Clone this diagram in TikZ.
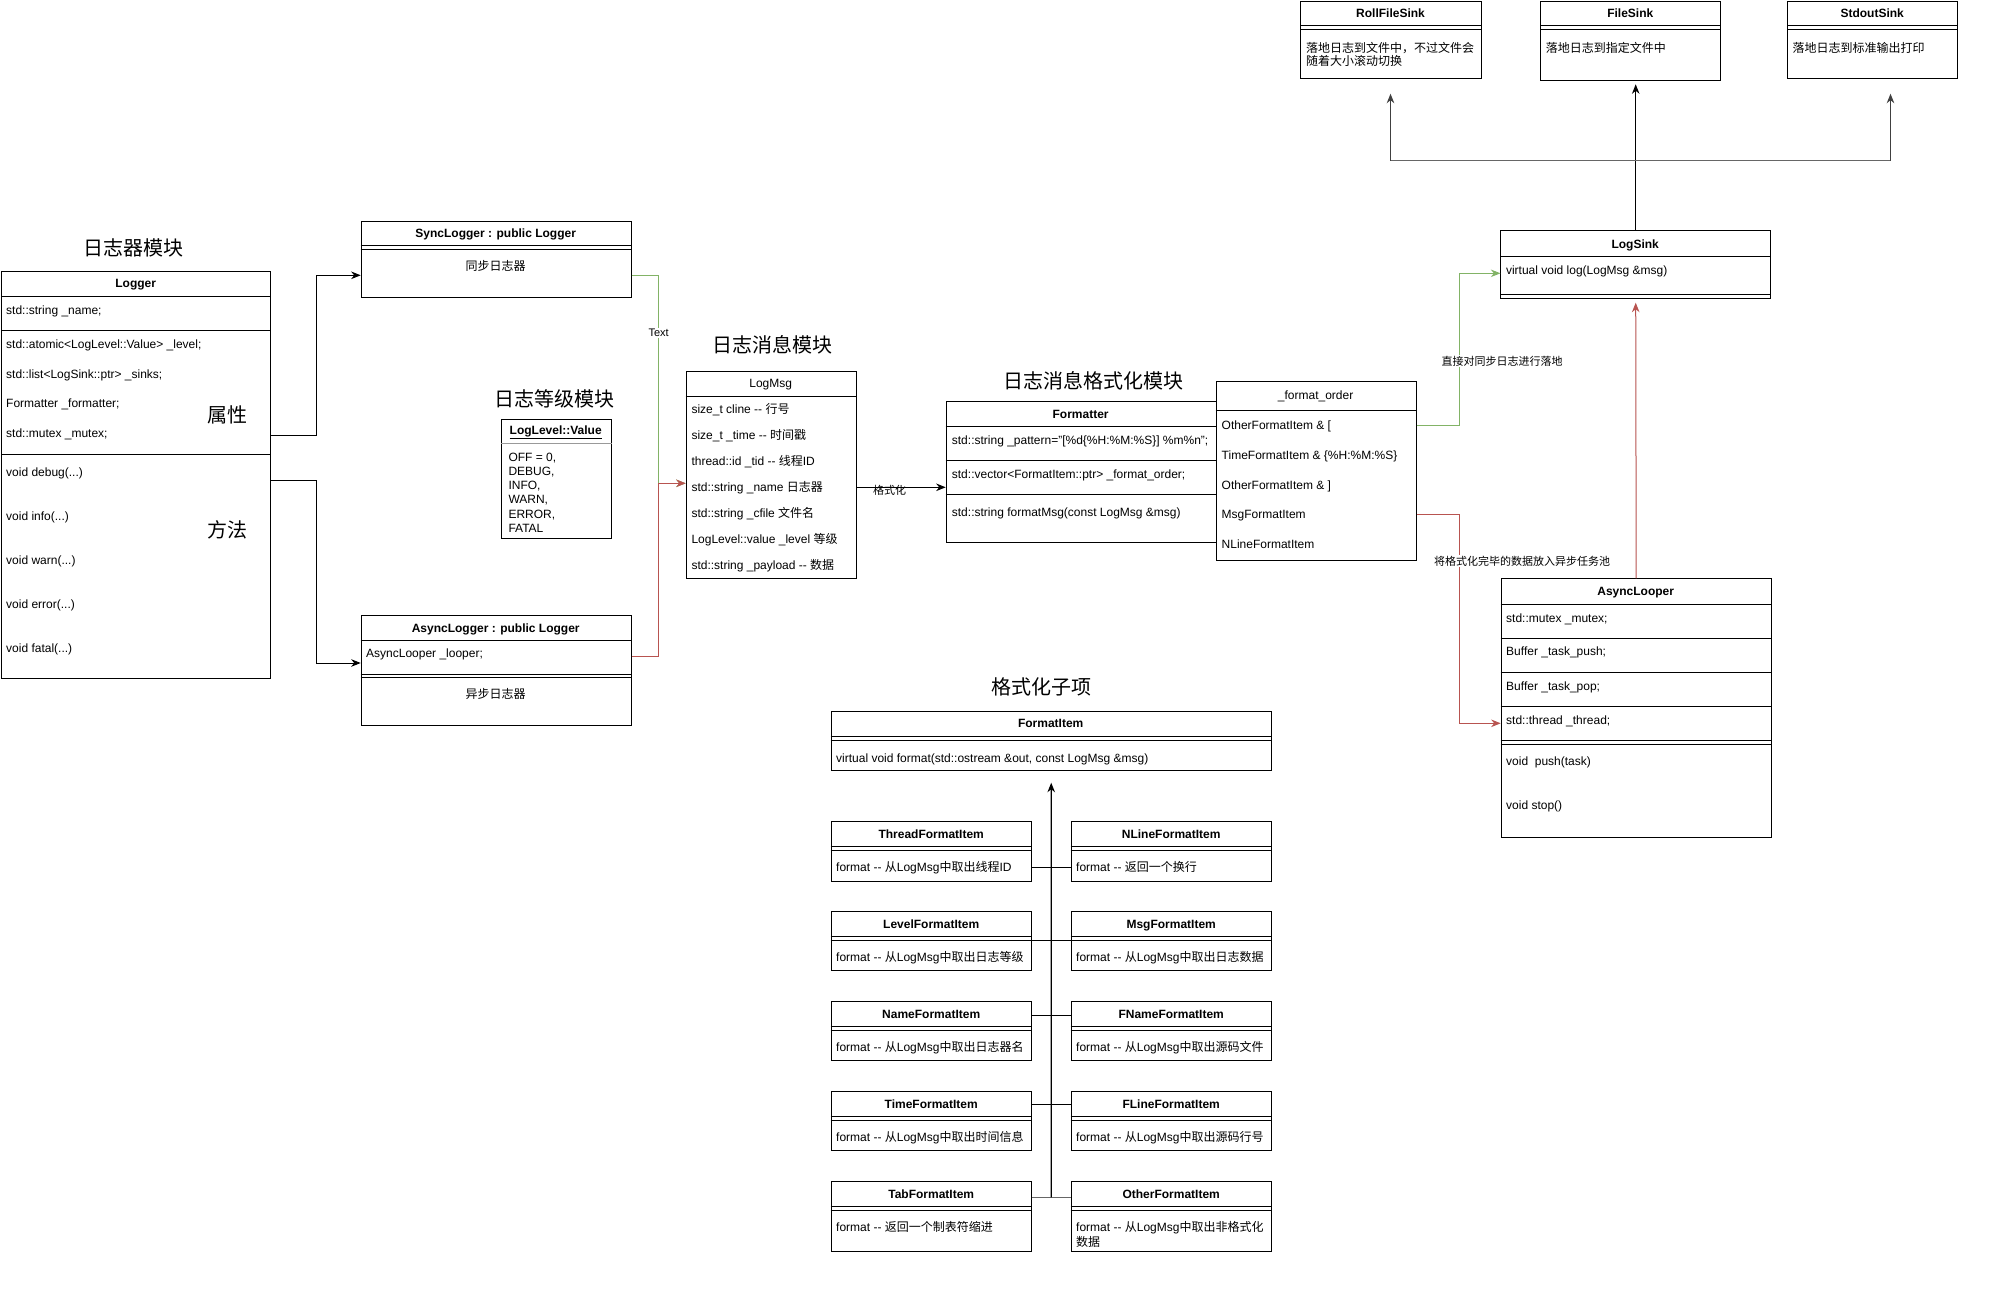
\documentclass[tikz,border=0pt]{standalone}
\usepackage{fontspec}
\setmainfont{Liberation Sans}
\newfontfamily\cjk{Noto Sans CJK SC}
\usetikzlibrary{arrows.meta,positioning,calc}
\definecolor{syncgreen}{HTML}{82B366}
\definecolor{asyncred}{HTML}{B85450}

% Chinese characters are set in the CJK face
\XeTeXinterchartokenstate=1
\newXeTeXintercharclass\cjkclass
\count255="4E00
\loop
  \XeTeXcharclass\count255=\cjkclass
  \advance\count255 by 1
\ifnum\count255<"A000 \repeat
\XeTeXcharclass"FF0C=\cjkclass
\XeTeXinterchartoks 0 \cjkclass={\cjk}
\XeTeXinterchartoks 4095 \cjkclass={\cjk}
\XeTeXinterchartoks \cjkclass 0={\normalfont}
\XeTeXinterchartoks \cjkclass 4095={\normalfont}

\newcommand{\dsh}{-\kern0pt-}
\newcommand{\hsep}[3][]{\draw[line width=1pt,#1] ([yshift=-#3pt]#2.north west) -- ([yshift=-#3pt]#2.north east);}

\begin{document}
\begin{tikzpicture}[x=1pt, y=-1pt, every node/.style={font=\fontsize{12}{14}\selectfont}]
\tikzset{box/.style={draw, line width=1pt, fill=white, inner sep=0pt, anchor=north west}}
\tikzset{txt/.style={inner sep=0pt, text height=8pt, text depth=0pt}}
\tikzset{row/.style={txt, anchor=west}}
\tikzset{cls/.style={txt, font=\bfseries\fontsize{12}{14}\selectfont}}
\tikzset{heading/.style={inner sep=0pt, font=\fontsize{20}{24}\selectfont}}
\tikzset{lbl/.style={inner sep=1pt, fill=white, font=\fontsize{11}{13}\selectfont}}
\tikzset{arr/.style={line width=1pt, -{Stealth[length=9.5pt, width=7.5pt, inset=3pt]}}}
\tikzset{garr/.style={arr, draw=syncgreen}}
\tikzset{rarr/.style={arr, draw=asyncred}}
\tikzset{busline/.style={line width=1.6pt, draw=black!60}}
\tikzset{busarr/.style={arr, line width=1.2pt, draw=black!75}}
\fill[white] (0,0) rectangle (2000,1300);
\useasboundingbox (0,0) rectangle (2000,1300);

% logger module
\node[heading] (hlogger) at (133,248) {日志器模块};
\node[box, minimum width=269.4pt, minimum height=407.6pt] (logger) at (1,270.7) {};
\node[cls] (loggert) at (135.7,283.5) {Logger};
\hsep{logger}{25.6} \hsep{logger}{59.6} \hsep{logger}{183.6}
\node[row] (aname) at (6,310) {std::string \_name;};
\node[row] (alevel) at (6,344) {std::atomic<LogLevel::Value> \_level;};
\node[row] (asinks) at (6,374) {std::list<LogSink::ptr> \_sinks;};
\node[row] (aformatter) at (6,403) {Formatter \_formatter;};
\node[row] (amutex) at (6,433) {std::mutex \_mutex;};
\node[row] (mdebug) at (6,472) {void debug(...)};
\node[row] (minfo) at (6,516) {void info(...)};
\node[row] (mwarn) at (6,560) {void warn(...)};
\node[row] (merror) at (6,604) {void error(...)};
\node[row] (mfatal) at (6,648) {void fatal(...)};
\node[heading] (hattr) at (227,415) {属性};
\node[heading] (hmeth) at (227,530) {方法};

\node[box, minimum width=270pt, minimum height=76.6pt] (sync) at (360.7,220.7) {};
\node[cls] (synct) at (495.7,233.3) {SyncLogger : public Logger};
\hsep{sync}{25.3} \hsep{sync}{29.3}
\node[txt] (syncb) at (495.7,266.7) {同步日志器};

\node[box, minimum width=270pt, minimum height=110pt] (async) at (360.7,615) {};
\node[cls] (asynct) at (495.7,628) {AsyncLogger : public Logger};
\hsep{async}{25.7} \hsep{async}{59} \hsep{async}{62.7}
\node[row] (alooper) at (366,653.3) {AsyncLooper \_looper;};
\node[txt] (asyncb) at (495.7,694) {异步日志器};

% log level
\node[heading] (hlevel) at (554,399) {日志等级模块};
\node[box, minimum width=110pt, minimum height=118.4pt] (loglevel) at (500.7,419.3) {};
\node[cls] (loglevelt) at (555.7,430.5) {\underline{LogLevel::Value}};
\hsep[black!40]{loglevel}{24}
\foreach \val [count=\i] in {{OFF = 0,}, {DEBUG,}, {INFO,}, {WARN,}, {ERROR,}, {FATAL}}
  \node[row] (lv\i) at (508.3,443.1+14.2*\i) {\val};

% log message
\node[heading] (hmsg) at (772.7,345) {日志消息模块};
\node[box, minimum width=170pt, minimum height=207.6pt] (logmsg) at (685.7,370.7) {};
\node[txt] (logmsgt) at (770.7,383.5) {LogMsg};
\hsep{logmsg}{25.6}
\node[row] (mline) at (691.3,409.3) {size\_t cline \dsh{} 行号};
\node[row] (mtime) at (691.3,435.3) {size\_t \_time \dsh{} 时间戳};
\node[row] (mtid) at (691.3,461.7) {thread::id \_tid \dsh{} 线程ID};
\node[row] (mname) at (691.3,487.3) {std::string \_name 日志器};
\node[row] (mfile) at (691.3,513.3) {std::string \_cfile 文件名};
\node[row] (mlevel) at (691.3,539.7) {LogLevel::value \_level 等级};
\node[row] (mpayload) at (691.3,565.7) {std::string \_payload \dsh{} 数据};

% formatter
\node[heading] (hformat) at (1093,381) {日志消息格式化模块};
\node[box, minimum width=269.9pt, minimum height=141.6pt] (formatter) at (945.7,400.7) {};
\node[cls] (formattert) at (1080.6,414) {Formatter};
\hsep{formatter}{26} \hsep{formatter}{59.6} \hsep{formatter}{93.6}
\node[row] (fpattern) at (951.7,440) {std::string \_pattern="[\%d\{\%H:\%M:\%S\}] \%m\%n";};
\node[row] (forderv) at (951.7,474) {std::vector<FormatItem::ptr> \_format\_order;};
\node[row] (fmsg) at (951.7,512.3) {std::string formatMsg(const LogMsg \&msg)};

\node[box, minimum width=200pt, minimum height=179.3pt] (forder) at (1215.6,380.7) {};
\node[txt] (fordert) at (1315.6,395.7) {\_format\_order};
\hsep{forder}{30}
\node[row] (o1) at (1221.5,425) {OtherFormatItem \& [};
\node[row] (o2) at (1221.5,455.7) {TimeFormatItem \& \{\%H:\%M:\%S\}};
\node[row] (o3) at (1221.5,485) {OtherFormatItem \& ]};
\node[row] (o4) at (1221.5,514.7) {MsgFormatItem};
\node[row] (o5) at (1221.5,544.3) {NLineFormatItem};

% sinks
\node[box, minimum width=269.6pt, minimum height=68.3pt] (logsink) at (1500.4,230) {};
\node[cls] (logsinkt) at (1635.2,244) {LogSink};
\hsep{logsink}{26.7} \hsep{logsink}{64.3}
\node[row] (slog) at (1505.8,270) {virtual void log(LogMsg \&msg)};

\node[box, minimum width=180.1pt, minimum height=77.3pt] (rollsink) at (1300.4,1) {};
\node[cls] (rollsinkt) at (1390.5,13.3) {RollFileSink};
\hsep{rollsink}{25} \hsep{rollsink}{29}
\node[row] (rollb1) at (1305.8,48.3) {落地日志到文件中，不过文件会};
\node[row] (rollb2) at (1305.8,61.7) {随着大小滚动切换};

\node[box, minimum width=180.1pt, minimum height=79.3pt] (filesink) at (1540.2,1) {};
\node[cls] (filesinkt) at (1630.3,13.3) {FileSink};
\hsep{filesink}{25} \hsep{filesink}{29}
\node[row] (fileb) at (1545.7,48.3) {落地日志到指定文件中};

\node[box, minimum width=169.7pt, minimum height=77.3pt] (stdsink) at (1787.3,1) {};
\node[cls] (stdsinkt) at (1872.2,13.3) {StdoutSink};
\hsep{stdsink}{25} \hsep{stdsink}{29}
\node[row] (stdb) at (1792.3,48.3) {落地日志到标准输出打印};

% async looper
\node[box, minimum width=270pt, minimum height=258.4pt] (looper) at (1500.7,578.3) {};
\node[cls] (loopert) at (1635.7,591.7) {AsyncLooper};
\hsep{looper}{26} \hsep{looper}{60} \hsep{looper}{94.4} \hsep{looper}{128.4} \hsep{looper}{162.4} \hsep{looper}{166}
\node[row] (lmutex) at (1506,618.3) {std::mutex \_mutex;};
\node[row] (lpush) at (1506,651.7) {Buffer \_task\_push;};
\node[row] (lpop) at (1506,686) {Buffer \_task\_pop;};
\node[row] (lthread) at (1506,720) {std::thread \_thread;};
\node[row] (lpushf) at (1506,761.7) {void~~push(task)};
\node[row] (lstop) at (1506,805.7) {void stop()};

% format items
\node[heading] (hitem) at (1041.7,687.3) {格式化子项};
\node[box, minimum width=440pt, minimum height=59.3pt] (fitem) at (830.7,710.7) {};
\node[cls] (fitemt) at (1050.7,723.3) {FormatItem};
\hsep{fitem}{26} \hsep{fitem}{29.3}
\node[row] (fitemb) at (836,758.3) {virtual void format(std::ostream \&out, const LogMsg \&msg)};

\foreach \nm/\xx/\yy/\hh/\ttl/\bd in {
  thread/830.7/820.7/60/ThreadFormatItem/从LogMsg中取出线程ID,
  nline/1070.7/820.7/60/NLineFormatItem/返回一个换行,
  level/830.7/910.7/59.3/LevelFormatItem/从LogMsg中取出日志等级,
  msg/1070.7/910.7/59.3/MsgFormatItem/从LogMsg中取出日志数据,
  name/830.7/1000.7/59.3/NameFormatItem/从LogMsg中取出日志器名,
  fname/1070.7/1000.7/59.3/FNameFormatItem/从LogMsg中取出源码文件,
  time/830.7/1090.7/59.3/TimeFormatItem/从LogMsg中取出时间信息,
  fline/1070.7/1090.7/59.3/FLineFormatItem/从LogMsg中取出源码行号,
  tab/830.7/1180.7/70/TabFormatItem/返回一个制表符缩进,
  other/1070.7/1180.7/70/OtherFormatItem/从LogMsg中取出非格式化}
{
  \node[box, minimum width=200pt, minimum height=\hh pt] (\nm) at (\xx,\yy) {};
  \node[cls] (\nm t) at ([yshift=-13.3pt]\nm.north) {\ttl};
  \hsep{\nm}{26} \hsep{\nm}{29.3}
  \node[row] (\nm b) at ([xshift=5.3pt, yshift=-47pt]\nm.north west) {format \dsh{} \bd};
}
\node[row] (otherb2) at ([xshift=5.3pt, yshift=-62pt]other.north west) {数据};

% connectors
\draw[arr] ([yshift=-164.3pt]logger.north east) -- ++(45,0) |- ([yshift=-54.6pt]sync.north west);
\draw[arr] ([yshift=-209.3pt]logger.north east) -- ++(45,0) |- ([yshift=-48pt]async.north west);
\draw[garr] ([yshift=-54.6pt]sync.north east) -- ++(27,0) |- node[lbl, pos=0.138] {Text} ([yshift=-112.6pt]logmsg.north west);
\draw[rarr] ([yshift=-41.7pt]async.north east) -- ++(27,0) |- ([yshift=-112.6pt]logmsg.north west);
\draw[arr] ([yshift=-116.6pt]logmsg.north east) -- node[pos=0.37, yshift=-2.7pt, inner sep=0pt, font=\fontsize{11}{13}\selectfont] {格式化} ([yshift=-86.6pt]formatter.north west);
\draw[garr] ([yshift=-44.3pt]forder.north east) -- ++(42.4,0) |- node[lbl, pos=0.21, xshift=43pt] {直接对同步日志进行落地} ([yshift=-43.3pt]logsink.north west);
\draw[rarr] ([yshift=-134pt]forder.north east) -- ++(42.4,0) |- node[lbl, pos=0.111, xshift=63pt] {将格式化完毕的数据放入异步任务池} ([yshift=-145pt]looper.north west);
\draw[rarr, shorten >=3.4pt] (looper.north) -- (logsink.south);
\draw[arr, shorten >=3pt] (logsink.north) -- (logsink.north |- filesink.south);
\coordinate (busl) at (1390.5,160.7);
\coordinate (busr) at (1890.5,160.7);
\draw[busline] (busl) -- (busr);
\draw[busarr, shorten >=14.4pt] (busl) -- (busl |- rollsink.south);
\draw[busarr, shorten >=14.4pt] (busr) -- (busr |- stdsink.south);

\draw[line width=1pt] ([yshift=-47pt]thread.north east) -- ([yshift=-47pt]nline.north west);
\draw[line width=1pt] ([yshift=-30pt]level.north east) -- ([yshift=-30pt]msg.north west);
\draw[line width=1pt] ([yshift=-14.3pt]name.north east) -- ([yshift=-14.3pt]fname.north west);
\draw[line width=1pt] ([yshift=-13.6pt]time.north east) -- ([yshift=-13.6pt]fline.north west);
\draw[busline] ([yshift=-16.6pt]tab.north east) -- ([yshift=-16.6pt]other.north west);
\coordinate (jn) at ($(tab.north east)!0.5!(other.north west)+(0,16.6)$);
\draw[arr, line width=1.2pt, shorten >=11.7pt] (jn) -- (fitem.south);
\end{tikzpicture}
\end{document}
